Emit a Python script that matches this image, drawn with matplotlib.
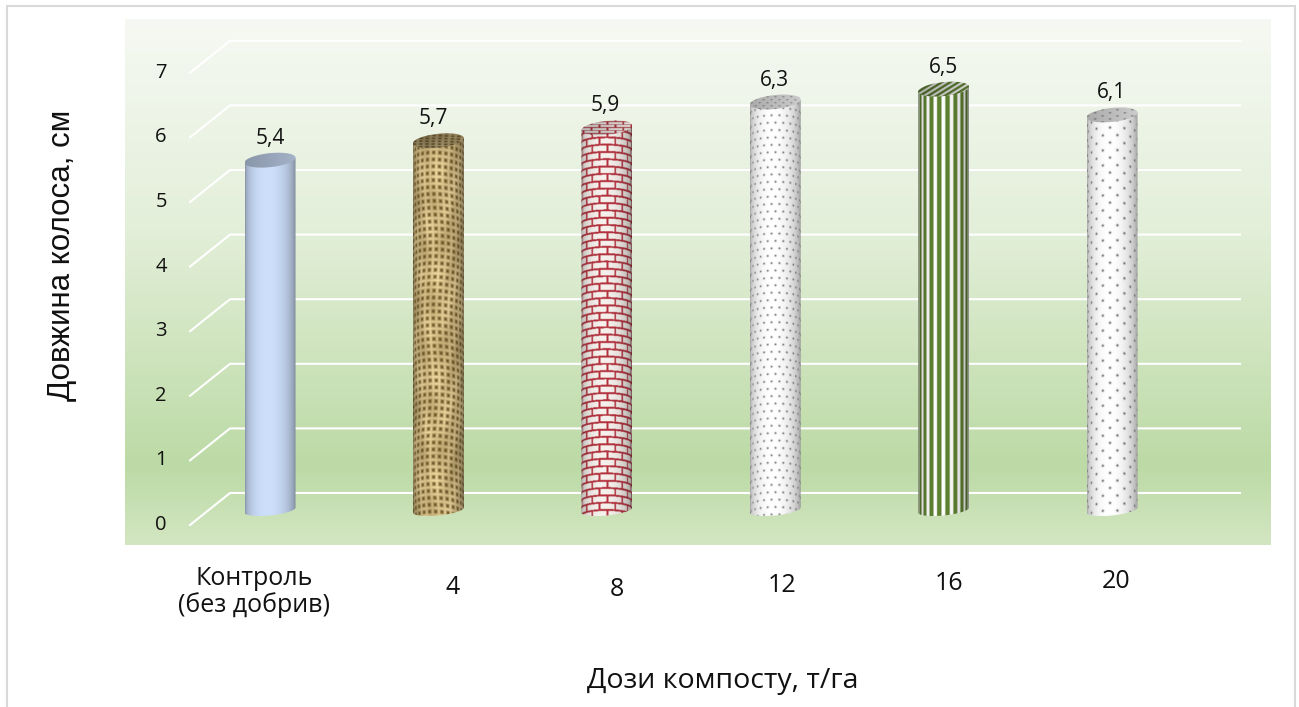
import numpy as np
import matplotlib
matplotlib.use("Agg")
import matplotlib.pyplot as plt
from matplotlib.colors import LinearSegmentedColormap, to_rgb
from matplotlib.patches import Polygon, Rectangle

# дані
categories = ["Контроль\n(без добрив)", "4", "8", "12", "16", "20"]
values = [5.4, 5.7, 5.9, 6.3, 6.5, 6.1]
value_labels = ["5,4", "5,7", "5,9", "6,3", "6,5", "6,1"]
y_ticks = [0, 1, 2, 3, 4, 5, 6, 7]
y_title = "Довжина колоса, см"
x_title = "Дози компосту, т/га"

# розміри в пікселях
W, H = 1299, 707
X0, STEP = 270, 168.4
Y0, UNIT = 509, 64.6
HALF_W = 25.5
CAP_B = 7
TILT = 2.5
DEPTH = 16
BODY_FONT = ["Open Sans", "DejaVu Sans"]

plt.rcParams["font.family"] = BODY_FONT


def px(x):
    return (x - X0) / STEP


def py(y):
    return (Y0 - y) / UNIT


def py_inv(value):
    return Y0 - value * UNIT


def mix(a, b, t):
    a = np.array(to_rgb(a))
    b = np.array(to_rgb(b))
    return a + (b - a) * t[..., None]


# текстури стовпців
def plain(u, v):
    return mix("#cddffb", "#cddffb", np.zeros_like(u))


def burlap(u, v):
    warp = 0.5 + 0.5 * np.sin(2 * np.pi * u / 6.3 + 1.6 * np.sin(v / 23))
    weft = 0.5 + 0.5 * np.sin(2 * np.pi * v / 6.9 + 1.4 * np.sin(u / 17))
    thread = np.maximum(warp, weft) ** 0.8
    blotch = 0.86 + 0.14 * np.sin(v / 11 + 2 * np.sin(u / 9)) * np.sin(u / 6 + v / 31)
    return mix("#5f4719", "#f3dca2", np.clip(thread * blotch, 0, 1))


def bricks(u, v):
    row = np.floor(v / 7.3)
    shift = (row % 2) * 8
    mortar = ((v % 7.3) < 1.9) | (((u + shift) % 16) < 1.9)
    return mix("#f6f1ec", "#b5333f", mortar.astype(float))


def dots(u, v, sx, sy, r):
    row = np.floor(v / sy)
    shift = (row % 2) * sx / 2
    dx = ((u + shift) % sx) - sx / 2
    dy = (v % sy) - sy / 2
    return mix("#ffffff", "#4f4f4f", np.exp(-(dx ** 2 + dy ** 2) / r ** 2))


def small_dots(u, v):
    return dots(u, v, 8.0, 7.4, 0.95)


def sparse_dots(u, v):
    return dots(u, v, 15.0, 7.5, 1.15)


def stripes(u, v):
    wave = np.sin(2 * np.pi * u / 8.4)
    return mix("#ffffff", "#5f8231", np.clip(wave * 3 + 0.9, 0, 1))


textures = [plain, burlap, bricks, small_dots, stripes, sparse_dots]
cap_shear = [0, 0, 0, 0, 1.6, 0]
cap_tone = [0.8, 0.72, 0.9, 0.8, 0.85, 0.8]


def body_outline(cx, y_top, y_bot):
    t = np.linspace(0, np.pi, 60)
    low_x = cx + HALF_W * np.cos(t)
    low_y = y_bot + 5.5 * np.sin(t) - TILT * np.cos(t)
    pts = list(zip(low_x, low_y))
    pts += [(cx - HALF_W, y_top + TILT), (cx + HALF_W, y_top - TILT)]
    return np.array(pts)


def cap_outline(cx, y_top):
    t = np.linspace(0, 2 * np.pi, 90)
    return np.column_stack((cx + HALF_W * np.cos(t), y_top + CAP_B * np.sin(t) - TILT * np.cos(t)))


def to_data(points):
    return np.column_stack((px(points[:, 0]), py(points[:, 1])))


def draw_cylinder(ax, i, value):
    cx = X0 + STEP * i
    y_top = py_inv(value)
    y_bot = py_inv(0) + 1
    texture = textures[i]

    # бічна поверхня
    n_x = 2 * int(HALF_W * 2)
    n_y = int((y_bot - y_top + 10) * 2)
    x = np.linspace(-HALF_W, HALF_W, n_x)
    y = np.linspace(-2, y_bot - y_top + 8, n_y)
    xx, yy = np.meshgrid(x, y)
    theta = np.arcsin(np.clip(xx / HALF_W, -1, 1))
    img = texture(HALF_W * theta + 40, yy + 5.5 * np.cos(theta))
    shade = 0.6 + 0.4 * np.clip(np.cos(theta + 0.12), 0, 1)
    img = np.clip(img * shade[..., None], 0, 1)
    extent = [px(cx - HALF_W), px(cx + HALF_W), py(y_top + y[-1]), py(y_top + y[0])]
    im = ax.imshow(img, extent=extent, aspect="auto", interpolation="bilinear", zorder=3)
    im.set_clip_path(Polygon(to_data(body_outline(cx, y_top, y_bot)), transform=ax.transData))

    # верхня кришка
    y = np.linspace(-CAP_B - 3, CAP_B + 3, 44)
    xx, yy = np.meshgrid(x, y)
    img = texture(xx + 40 + cap_shear[i] * yy, (yy + 10) * 2.4)
    tone = cap_tone[i] * (0.92 + 0.08 * xx / HALF_W)
    img = np.clip(img * tone[..., None], 0, 1)
    extent = [px(cx - HALF_W), px(cx + HALF_W), py(y_top + y[-1]), py(y_top + y[0])]
    im = ax.imshow(img, extent=extent, aspect="auto", interpolation="bilinear", zorder=4)
    im.set_clip_path(Polygon(to_data(cap_outline(cx, y_top)), transform=ax.transData))


fig = plt.figure(figsize=(W / 100, H / 100), dpi=100)
ax = fig.add_axes([0, 0, 1, 1])

# рамка діаграми
ax.add_patch(Rectangle((px(7), py(H + 20)), (1295 - 7) / STEP, (H + 20 - 6) / UNIT,
                       facecolor="white", edgecolor="#d9d9d9", linewidth=1.5, zorder=0))

# градієнтний фон області побудови
bg_cmap = LinearSegmentedColormap.from_list("bg", [
    (0.0, "#f6f9f3"), (0.4, "#e3efd9"), (0.85, "#bcdaa5"), (1.0, "#d3e6c2")])
ax.imshow(np.linspace(0, 1, 256)[:, None], cmap=bg_cmap, aspect="auto", zorder=1,
          extent=[px(125), px(1270), py(545), py(19)])

# лінії сітки
for tick in y_ticks:
    ax.plot([px(190), px(230), px(1240)],
            [tick - DEPTH / UNIT, tick + DEPTH / UNIT, tick + DEPTH / UNIT],
            color="white", linewidth=1.5, solid_joinstyle="miter", zorder=2)
    ax.text(px(161), tick - DEPTH / UNIT, str(tick), fontsize=14.5,
            ha="center", va="center", color="#111111", zorder=5)

for i, value in enumerate(values):
    draw_cylinder(ax, i, value)

# підписи значень
label_dx = [0, -5, -2, -1, 0, -1]
for i, value in enumerate(values):
    ax.text(px(X0 + STEP * i + label_dx[i]), value + 22 / UNIT, value_labels[i],
            fontsize=15, ha="center", va="center", color="#111111", zorder=5)

# підписи категорій розташовані нерівномірно
cat_x = [254, 453, 617, 782, 949, 1116]
cat_y = [592, 587, 589, 586, 584, 582]
for i, name in enumerate(categories):
    ax.text(px(cat_x[i]), py(cat_y[i]), name, fontsize=18, ha="center", va="center",
            linespacing=1.05, color="#111111", zorder=5)

ax.text(px(723), py(681), x_title, fontsize=20.5, ha="center", va="center", color="#111111")
ax.text(px(62), py(255), y_title, fontsize=22.5, rotation=90, ha="center", va="center",
        color="#111111", family=["Liberation Sans", "DejaVu Sans"])

ax.set_xlim(px(0), px(W))
ax.set_ylim(py(H), py(0))
ax.axis("off")

fig.savefig("out.png", dpi=100)
